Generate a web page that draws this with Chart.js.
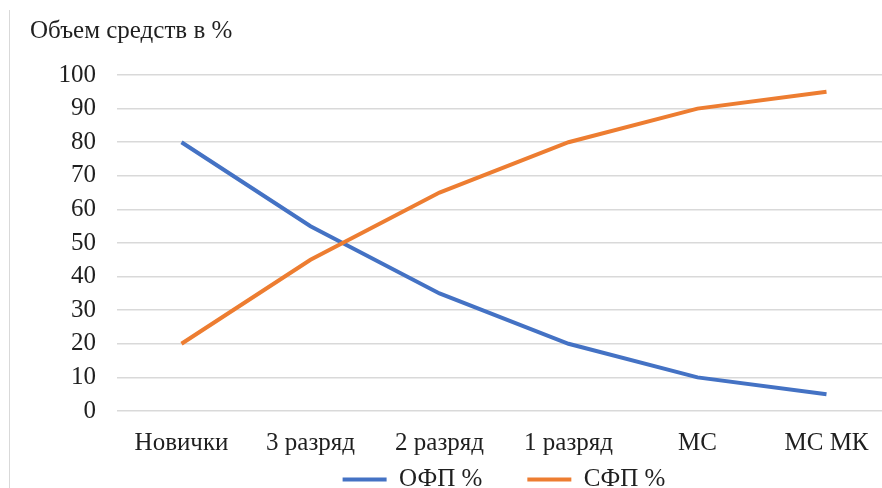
<!DOCTYPE html>
<html>
<head>
<meta charset="utf-8">
<script src="https://cdn.jsdelivr.net/npm/chart.js@4"></script>
<style>
  html, body { margin: 0; padding: 0; background: #fff; overflow: hidden; }
  #wrap { position: relative; width: 882px; height: 488px; overflow: hidden; }
  #frame { position: absolute; left: 9px; top: 10px; width: 1px; height: 478px; background: #d9d9d9; }
  #c { position: absolute; left: 0; top: 0; }
</style>
</head>
<body>
<div id="wrap">
  <div id="frame"></div>
  <canvas id="c" width="900" height="547"></canvas>
</div>
<script>
const categories = ["Новички", "3 разряд", "2 разряд", "1 разряд", "МС", "МС МК"];
const ofpValues = [80, 55, 35, 20, 10, 5];
const sfpValues = [20, 45, 65, 80, 90, 95];
const seriesNames = ["ОФП %", "СФП %"];
const chartTitle = "Объем средств в %";
const yMin = 0, yMax = 100, yStep = 10;

const FONT = "'Liberation Serif', 'Times New Roman', serif";
const TXT = "#1f1f1f";
const FS = 25;
const LEGEND_GAP = 71; // distance from plot bottom to legend row centre

const legendLift = {
  id: 'legendLift',
  afterLayout(chart) {
    const l = chart.legend;
    if (!l) return;
    const pad = l.options.labels.padding;
    const top = chart.chartArea.bottom + LEGEND_GAP - pad - FS * 1.2 / 2;
    const h = l.height;
    l.top = top; l.bottom = top + h;
  }
};

new Chart(document.getElementById('c'), {
  type: 'line',
  data: {
    labels: categories,
    datasets: [
      { label: seriesNames[0], data: ofpValues, borderColor: '#4472C4', backgroundColor: '#4472C4',
        borderWidth: 4, pointRadius: 0, tension: 0, order: 1 },
      { label: seriesNames[1], data: sfpValues, borderColor: '#ED7D31', backgroundColor: '#ED7D31',
        borderWidth: 4, pointRadius: 0, tension: 0, order: 0 }
    ]
  },
  plugins: [legendLift],
  options: {
    responsive: false,
    animation: false,
    layout: { padding: { left: 30, right: 9, top: 0, bottom: 0 } },
    plugins: {
      title: {
        display: true, text: chartTitle, align: 'start', color: TXT,
        font: { family: FONT, size: FS, weight: 'normal' },
        padding: { top: 16, bottom: 29 }
      },
      legend: {
        position: 'bottom', fullSize: false,
        labels: {
          usePointStyle: true, pointStyle: 'line', pointStyleWidth: 44,
          color: TXT, font: { family: FONT, size: FS }, padding: 45,
          sort: (a, b) => a.datasetIndex - b.datasetIndex
        }
      },
      tooltip: { enabled: false }
    },
    scales: {
      x: {
        offset: true,
        grid: { display: false },
        border: { display: false },
        ticks: { color: TXT, font: { family: FONT, size: FS }, padding: 9, maxRotation: 0 }
      },
      y: {
        min: yMin, max: yMax,
        grid: { color: '#d9d9d9', lineWidth: 1.5, drawTicks: false },
        border: { display: false },
        ticks: { stepSize: yStep, color: TXT, font: { family: FONT, size: FS }, padding: 21 },
        afterFit: (s) => { s.width = 87; }
      }
    }
  }
});
</script>
</body>
</html>
